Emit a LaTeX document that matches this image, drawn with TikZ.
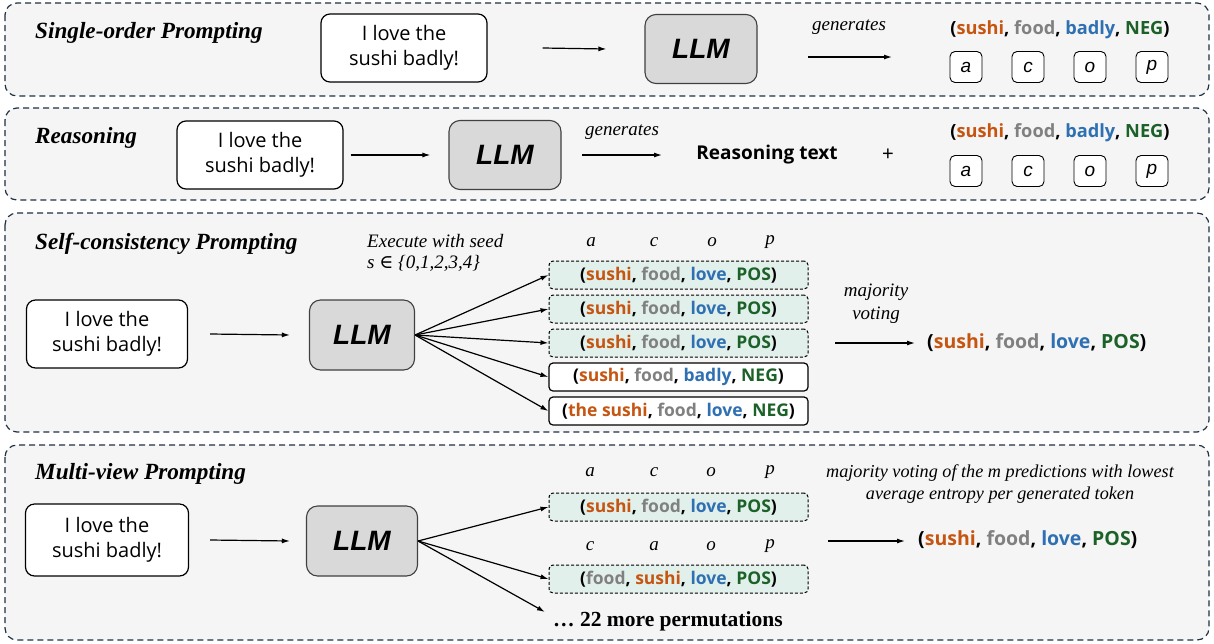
\documentclass[tikz,border=0pt]{standalone}
\usepackage{fontspec}
\setmainfont{Liberation Serif}
\newfontfamily\comic{Open Sans}
\newfontfamily\arialf{Liberation Sans}
\newfontfamily\djs{DejaVu Serif}
\usetikzlibrary{arrows.meta}
\definecolor{cA}{RGB}{197,85,17}
\definecolor{cC}{RGB}{128,128,128}
\definecolor{cO}{RGB}{46,112,178}
\definecolor{cP}{RGB}{28,98,40}
\definecolor{panelc}{RGB}{30,48,66}
\definecolor{panelbg}{RGB}{245,245,245}
\definecolor{llmfill}{RGB}{217,217,217}
\definecolor{tealfill}{RGB}{226,240,236}
\newcommand\tpl[4]{({\color{cA}#1}, {\color{cC}#2}, {\color{cO}#3}, {\color{cP}#4})}
\tikzset{
  panel/.style={draw=panelc, fill=panelbg, line width=1.2pt, dash pattern=on 6pt off 4pt, rounded corners=12pt},
  ttl/.style={font=\fontsize{23.2}{26}\selectfont\bfseries\itshape, anchor=base west, inner sep=0pt},
  inbox/.style={draw, line width=1.2pt, fill=white, rounded corners=9pt, minimum width=166pt, minimum height=68pt, align=center, font=\comic\fontsize{20}{25}\selectfont, inner sep=0pt},
  llm/.style={draw=black!75, line width=1.1pt, fill=llmfill, rounded corners=11pt, minimum width=112pt, minimum height=69pt, font=\arialf\fontsize{28}{30}\selectfont\bfseries\itshape, inner sep=0pt},
  arr/.style={-{Latex[length=8pt,width=5pt]}, line width=1.2pt},
  lab/.style={font=\fontsize{19}{23}\selectfont\itshape, inner sep=0pt, align=center},
  tup/.style={font=\comic\fontsize{18.2}{20}\selectfont\bfseries, inner sep=0pt},
  lbox/.style={draw, line width=0.9pt, fill=white, rounded corners=5pt, minimum width=32pt, minimum height=31pt, font=\arialf\fontsize{19}{20}\selectfont\itshape, inner sep=0pt},
  okbox/.style={draw, line width=1pt, dash pattern=on 3pt off 2pt, fill=tealfill, rounded corners=4pt, minimum width=259pt, minimum height=28pt, font=\comic\fontsize{17.5}{20}\selectfont\bfseries, inner sep=0pt},
  badbox/.style={draw, line width=1.2pt, fill=white, rounded corners=4pt, minimum width=259pt, minimum height=28pt, font=\comic\fontsize{17.5}{20}\selectfont\bfseries, inner sep=0pt},
}
\begin{document}
\begin{tikzpicture}[x=1pt,y=-1pt]
\useasboundingbox (0,0) rectangle (1214,643);
% panels
\draw[panel] (5,3) rectangle (1209,96);
\draw[panel] (5,108) rectangle (1209,200);
\draw[panel] (5,213) rectangle (1209,432);
\draw[panel] (5,445) rectangle (1209,640);

% ---------- Panel 1 ----------
\node[ttl] (t1) at (35,38) {Single-order Prompting};
\node[inbox] (in1) at (404,48) {I love the\\sushi badly!};
\node[llm] (llm1) at (701,49) {LLM};
\draw[arr] ([xshift=55pt]in1.east) -- ([xshift=-38pt]llm1.west);
\node[lab] (g1) at (849,27) {generates};
\coordinate (g1s) at (808,57);
\coordinate (g1e) at (892,57);
\draw[arr] (g1s) -- (g1e);
\node[tup] (r1) at (1060,30) {\tpl{sushi}{food}{badly}{NEG}};
\node[lbox] (a1) at (966,67) {a};
\node[lbox] (c1) at (1028,67) {c};
\node[lbox] (o1) at (1090,67) {o};
\node[lbox] (p1) at (1152,67) {p};

% ---------- Panel 2 ----------
\node[ttl] (t2) at (35,143) {Reasoning};
\node[inbox] (in2) at (260,155) {I love the\\sushi badly!};
\node[llm] (llm2) at (505,155) {LLM};
\draw[arr] ([xshift=7pt]in2.east) -- ([xshift=-18pt]llm2.west);
\node[lab] (g2) at (622,132) {generates};
\coordinate (g2s) at (582,155);
\coordinate (g2e) at (662,155);
\draw[arr] (g2s) -- (g2e);
\node[font=\comic\fontsize{19}{22}\selectfont\bfseries, inner sep=0pt] (rt) at (767,155) {Reasoning text};
\node[font=\arialf\fontsize{20}{22}\selectfont, inner sep=0pt] (plus) at (888,155) {+};
\node[tup] (r2) at (1060,133) {\tpl{sushi}{food}{badly}{NEG}};
\node[lbox] (a2) at (966,171) {a};
\node[lbox] (c2) at (1028,171) {c};
\node[lbox] (o2) at (1090,171) {o};
\node[lbox] (p2) at (1152,171) {p};

% ---------- Panel 3 ----------
\node[ttl] (t3) at (35,249) {Self-consistency Prompting};
\node[inbox, minimum width=161pt] (in3) at (107,334) {I love the\\sushi badly!};
\node[llm, minimum width=105pt, minimum height=70pt] (llm3) at (362,335) {LLM};
\draw[arr] ([xshift=22pt]in3.east) -- ([xshift=-19pt]llm3.west);
\node[lab, anchor=base west] (ex1) at (367,247) {Execute with seed};
\node[lab, anchor=base west] (ex2) at (367,268) {s {\djs ∈} \{0,1,2,3,4\}};
\node[lab] (la3) at (591,242) {a};
\node[lab] (lc3) at (654,242) {c};
\node[lab] (lo3) at (712,242) {o};
\node[lab] (lp3) at (770,242) {p};
\node[okbox] (s1) at (678.5,275) {\tpl{sushi}{food}{love}{POS}};
\node[okbox] (s2) at (678.5,309) {\tpl{sushi}{food}{love}{POS}};
\node[okbox] (s3) at (678.5,343) {\tpl{sushi}{food}{love}{POS}};
\node[badbox] (s4) at (678.5,377) {\tpl{sushi}{food}{badly}{NEG}};
\node[badbox] (s5) at (678.5,411) {\tpl{the sushi}{food}{love}{NEG}};
\foreach \s in {s1,s2,s3,s4,s5} \draw[arr] (llm3.east) -- (\s.west);
\node[lab] (mv) at (876,304) {majority\\voting};
\coordinate (m3s) at (835,343);
\coordinate (m3e) at (915,343);
\draw[arr] (m3s) -- (m3e);
\node[tup, anchor=west, font=\comic\fontsize{19.5}{20}\selectfont\bfseries] (r3) at (927,343) {\tpl{sushi}{food}{love}{POS}};

% ---------- Panel 4 ----------
\node[ttl] (t4) at (35,479) {Multi-view Prompting};
\node[inbox, minimum width=163pt, minimum height=72pt] (in4) at (107,540) {I love the\\sushi badly!};
\node[llm, minimum width=111pt, minimum height=70pt] (llm4) at (362,541) {LLM};
\draw[arr] ([xshift=21pt]in4.east) -- ([xshift=-16pt]llm4.west);
\node[lab] (la4) at (590,472) {a};
\node[lab] (lc4) at (654,472) {c};
\node[lab] (lo4) at (711,472) {o};
\node[lab] (lp4) at (770,472) {p};
\node[okbox] (v1) at (678.5,507) {\tpl{sushi}{food}{love}{POS}};
\node[lab] (lc5) at (590,546) {c};
\node[lab] (la5) at (654,546) {a};
\node[lab] (lo5) at (711,546) {o};
\node[lab] (lp5) at (770,546) {p};
\node[okbox] (v2) at (678.5,579) {(\textcolor{cC}{food}, \textcolor{cA}{sushi}, \textcolor{cO}{love}, \textcolor{cP}{POS})};
\node[font=\fontsize{21.5}{24}\selectfont\bfseries, inner sep=0pt, anchor=west] (perm) at (553,621) {… 22 more permutations};
\draw[arr] (llm4.east) -- (v1.west);
\draw[arr] (llm4.east) -- (v2.west);
\draw[arr] (llm4.east) -- ([xshift=-8pt,yshift=9pt]perm.west);
\node[lab, font=\fontsize{18.2}{22}\selectfont\itshape] (mv4) at (1000,484) {majority voting of the m predictions with lowest\\average entropy per generated token};
\coordinate (m4s) at (828,541);
\coordinate (m4e) at (905,541);
\draw[arr] (m4s) -- (m4e);
\node[tup, anchor=west, font=\comic\fontsize{19.5}{20}\selectfont\bfseries] (r4) at (918,540) {\tpl{sushi}{food}{love}{POS}};
\end{tikzpicture}
\end{document}
